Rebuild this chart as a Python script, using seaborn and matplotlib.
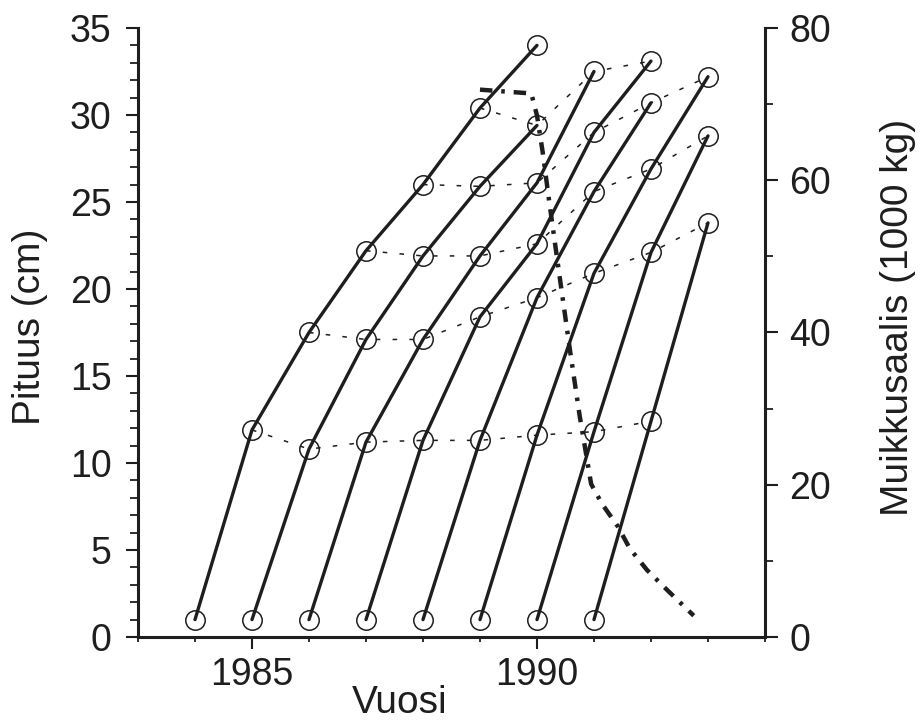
import matplotlib
matplotlib.use("Agg")
import matplotlib.pyplot as plt
import seaborn as sns
import pandas as pd
from matplotlib.ticker import MultipleLocator, FixedLocator

# ---- data ----
cohort_start = [1984, 1985, 1986, 1987, 1988, 1989, 1990, 1991]
cohort_1984 = [1.0, 11.9, 17.5, 22.2, 26.0, 30.4, 34.0]
cohort_1985 = [1.0, 10.8, 17.1, 21.9, 25.9, 29.4]
cohort_1986 = [1.0, 11.2, 17.1, 21.9, 26.1, 32.5]
cohort_1987 = [1.0, 11.3, 18.4, 22.6, 29.0, 33.1]
cohort_1988 = [1.0, 11.3, 19.5, 25.6, 30.7]
cohort_1989 = [1.0, 11.6, 20.9, 26.9, 32.2]
cohort_1990 = [1.0, 11.8, 22.1, 28.8]
cohort_1991 = [1.0, 12.4, 23.8]
cohorts = [cohort_1984, cohort_1985, cohort_1986, cohort_1987,
           cohort_1988, cohort_1989, cohort_1990, cohort_1991]

catch_year = [1989.0, 1989.9, 1990.0, 1990.1, 1990.2, 1990.37, 1990.58,
              1990.75, 1990.95, 1991.14, 1991.42, 1991.63, 1991.93,
              1992.28, 1992.75]
catch_value = [71.9, 71.4, 68.5, 63.7, 58.0, 48.8, 37.6, 29.0, 20.1,
               17.5, 14.5, 11.6, 8.8, 6.2, 2.8]

x_major_ticks = [1985, 1990]
xlabel = "Vuosi"
ylabel_left = "Pituus (cm)"
ylabel_right = "Muikkusaalis (1000 kg)"

rows = []
for start, vals in zip(cohort_start, cohorts):
    for age, v in enumerate(vals):
        rows.append({"cohort": start, "age": age, "year": start + age, "length": v})
df = pd.DataFrame(rows)
df_age = df[df["age"] >= 1]
df_catch = pd.DataFrame({"year": catch_year, "catch": catch_value})

# ---- style ----
sns.set_theme(style="ticks")
plt.rcParams["font.family"] = ["Liberation Sans", "DejaVu Sans"]
K = "#1e1e1e"
plt.rcParams["text.color"] = K
plt.rcParams["axes.labelcolor"] = K
plt.rcParams["xtick.color"] = K
plt.rcParams["ytick.color"] = K
plt.rcParams["axes.edgecolor"] = K

fig = plt.figure(figsize=(9.23, 7.27), dpi=100)
ax = fig.add_axes([0.1495, 0.1238, 0.6793, 0.8377])
ax2 = ax.twinx()

# dotted lines connecting same-age fish
sns.lineplot(data=df_age, x="year", y="length", units="age", estimator=None,
             color=K, lw=1.1, linestyle=(0, (3, 8)), ax=ax, legend=False)
# cohort growth lines
sns.lineplot(data=df, x="year", y="length", units="cohort", estimator=None,
             color=K, lw=2.4, marker="o", markersize=14,
             markerfacecolor="none", markeredgecolor=K, markeredgewidth=1.1,
             ax=ax, legend=False)
# catch (dash-dot)
sns.lineplot(data=df_catch, x="year", y="catch", sort=False, color=K, lw=3.2,
             linestyle=(0, (2.8, 2.0, 0.8, 2.0)), ax=ax2, legend=False)

ax.set_xlim(1983, 1994)
ax.set_ylim(0, 35)
ax2.set_ylim(0, 80)

for s in ["top", "right"]:
    ax.spines[s].set_visible(False)
for s in ["top", "left", "bottom"]:
    ax2.spines[s].set_visible(False)
for s in ["left", "bottom"]:
    ax.spines[s].set_linewidth(2.2)
ax2.spines["right"].set_linewidth(2.2)

ax.xaxis.set_major_locator(FixedLocator(x_major_ticks))
ax.xaxis.set_minor_locator(MultipleLocator(1))
ax.yaxis.set_major_locator(MultipleLocator(5))
ax.yaxis.set_minor_locator(MultipleLocator(1))
ax2.yaxis.set_major_locator(MultipleLocator(20))
ax2.yaxis.set_minor_locator(MultipleLocator(10))

ax.tick_params(axis="y", which="major", direction="out", length=9, width=1.5,
               pad=10, labelsize=27)
ax.tick_params(axis="y", which="minor", direction="out", length=5.5, width=1.3)
ax.tick_params(axis="x", which="major", direction="out", length=8.6, width=1.5,
               pad=6, labelsize=27)
ax.tick_params(axis="x", which="minor", direction="out", length=3.6, width=1.3)
ax2.tick_params(axis="y", which="major", direction="out", length=9, width=1.5,
                pad=8.6, labelsize=27)
ax2.tick_params(axis="y", which="minor", direction="out", length=5.5, width=1.3)

ax.set_xlabel(xlabel, fontsize=28)
ax.set_ylabel(ylabel_left, fontsize=28)
ax2.set_ylabel(ylabel_right, fontsize=28)
ax.xaxis.set_label_coords(0.418, -0.078)
ax.yaxis.set_label_coords(-0.1435, 0.509)
ax2.yaxis.set_label_coords(1.1834, 0.524)

fig.savefig("out.png", dpi=100)
